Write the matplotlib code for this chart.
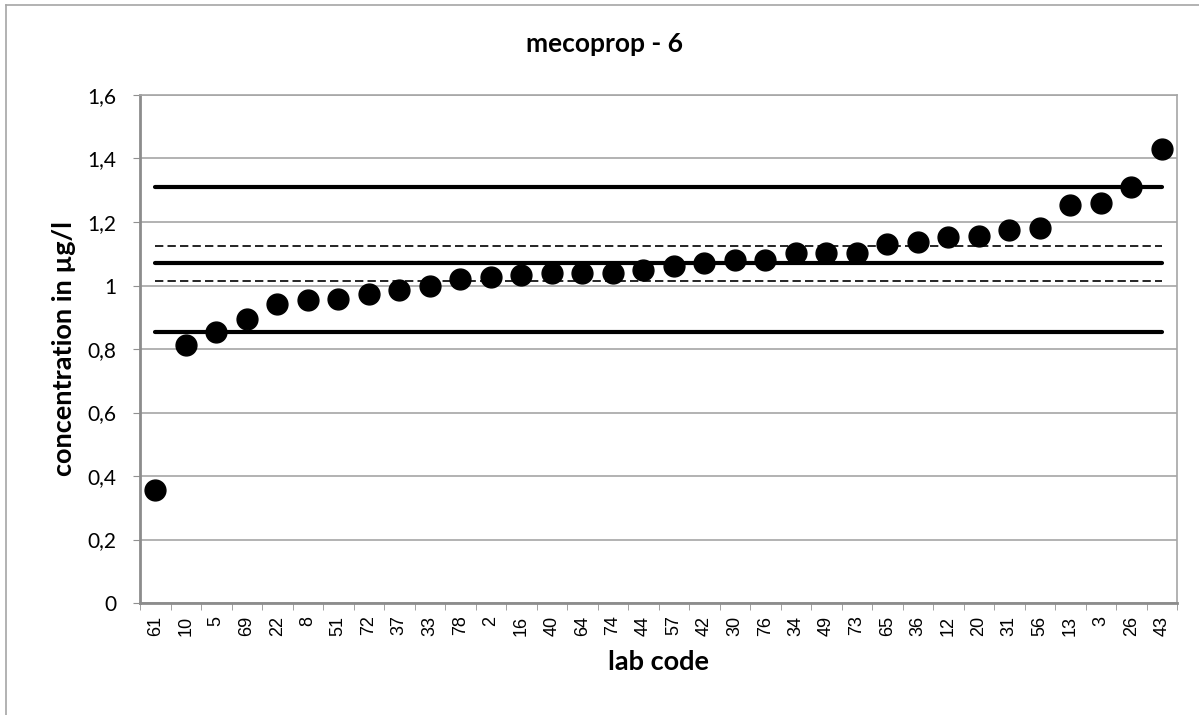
import numpy as np
import matplotlib.pyplot as plt
from matplotlib.lines import Line2D
from matplotlib.ticker import FuncFormatter, FixedLocator

labs = ["61", "10", "5", "69", "22", "8", "51", "72", "37", "33", "78", "2",
        "16", "40", "64", "74", "44", "57", "42", "30", "76", "34", "49", "73",
        "65", "36", "12", "20", "31", "56", "13", "3", "26", "43"]
conc = [0.355, 0.812, 0.855, 0.896, 0.941, 0.955, 0.956, 0.972, 0.987, 1.000,
        1.021, 1.028, 1.033, 1.039, 1.039, 1.038, 1.049, 1.060, 1.072, 1.080,
        1.080, 1.102, 1.102, 1.101, 1.130, 1.137, 1.152, 1.157, 1.176, 1.180,
        1.254, 1.261, 1.310, 1.431]

# assigned value, tolerance limits and uncertainty band
mean_val = 1.070
limits = [0.853, 1.309]
uncert = [1.015, 1.123]

plt.rcParams['font.family'] = ['Lato', 'DejaVu Sans']

fig = plt.figure(figsize=(11.99, 7.15), dpi=100)
ax = fig.add_axes([140 / 1199, 112 / 715, 1037 / 1199, 508 / 715])

x = np.arange(len(labs))
for v in limits + [mean_val]:
    ax.plot([x[0], x[-1]], [v, v], color='black', lw=3.0, solid_capstyle='round', zorder=2)
for v in uncert:
    ax.plot([x[0], x[-1]], [v, v], color='black', lw=1.2, ls=(0, (5, 2.5)), zorder=2)
ax.plot(x, conc, 'o', color='black', markersize=15, zorder=3)

ax.set_xlim(-0.5, len(labs) - 0.5)
ax.set_ylim(0, 1.6)
ax.set_yticks(np.arange(0, 1.61, 0.2))
ax.yaxis.set_major_formatter(FuncFormatter(lambda v, p: ('%g' % round(v, 1)).replace('.', ',')))
ax.grid(axis='y', color='#a6a6a6', lw=1.2, zorder=0)

ax.set_xticks(x)
ax.set_xticklabels(labs, rotation=90, fontsize=13, family=['Liberation Sans', 'DejaVu Sans'])
ax.xaxis.set_minor_locator(FixedLocator(np.arange(-0.5, len(labs), 1)))
ax.tick_params(axis='x', which='major', length=0, pad=9)
ax.tick_params(axis='x', which='minor', length=5, color='#909090')
ax.tick_params(axis='y', length=5, color='#909090', labelsize=15, pad=12)

for s in ax.spines.values():
    s.set_color('#a6a6a6')
    s.set_linewidth(1.2)
ax.spines['left'].set_color('#8c8c8c')
ax.spines['bottom'].set_color('#8c8c8c')
ax.spines['left'].set_linewidth(2)
ax.spines['bottom'].set_linewidth(2)

fig.text(604 / 1199, 1 - 44 / 715, 'mecoprop - 6', fontsize=19, fontweight='bold',
         ha='center', va='center')
ax.set_xlabel('lab code', fontsize=19.5, fontweight='bold', labelpad=10)
ax.set_ylabel('concentration in µg/l', fontsize=19.5, fontweight='bold', labelpad=8)

# chart area border (only top and left edges fall inside the image)
fig.lines.append(Line2D([6 / 1199, 6 / 1199], [0, 1 - 5 / 715], transform=fig.transFigure,
                        color='#a6a6a6', lw=1.2))
fig.lines.append(Line2D([6 / 1199, 1], [1 - 5 / 715, 1 - 5 / 715], transform=fig.transFigure,
                        color='#a6a6a6', lw=1.2))

fig.savefig('out.png', dpi=100)
